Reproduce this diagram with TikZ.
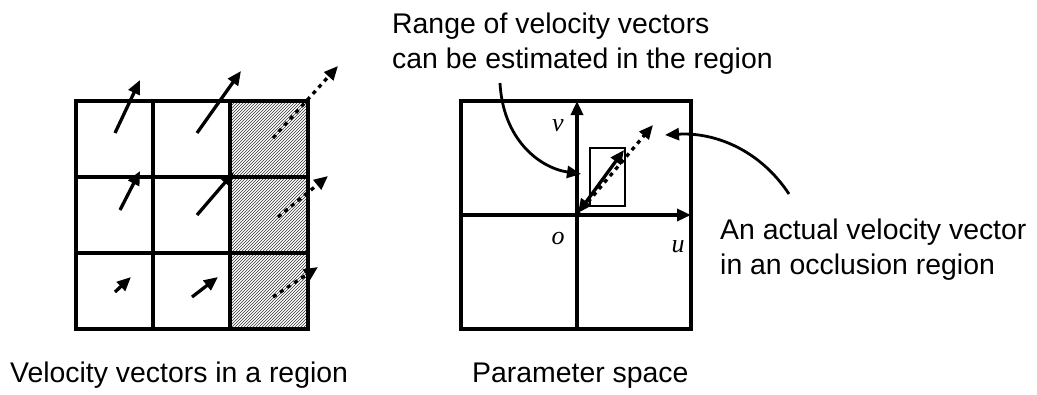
\documentclass[tikz,border=0pt]{standalone}
\usepackage{fontspec}
\setmainfont{Liberation Sans}
\newfontfamily\serifit{Liberation Serif}
\usetikzlibrary{arrows.meta,patterns}
\begin{document}
\begin{tikzpicture}[x=1pt,y=-1pt,
  gridline/.style={line width=3.6pt},
  vec/.style={line width=3.3pt,-{Triangle[length=14pt,width=12pt]}},
  dvec/.style={line width=3.3pt,dash pattern=on 4pt off 4.5pt,-{Triangle[length=14pt,width=12pt]}},
  curvearrow/.style={line width=2.8pt,-{Triangle[length=14pt,width=12pt]}},
  lbl/.style={inner sep=0pt,font=\fontsize{28.4}{35}\selectfont,align=left},
  axlbl/.style={inner sep=0pt,font=\fontsize{26}{28}\serifit\itshape}]
\useasboundingbox (0,0) rectangle (1037,394);
% left grid
\fill[pattern=north east lines,pattern color=black!80] (230,101) rectangle (308,329);
\draw[gridline] (76,101) rectangle (308,329);
\draw[gridline] (153,101) -- (153,329);
\draw[gridline] (230,101) -- (230,329);
\draw[gridline] (76,177) -- (308,177);
\draw[gridline] (76,253) -- (308,253);
% vectors in grid
\coordinate (a1s) at (115,133); \coordinate (a1e) at (140,80);
\coordinate (a2s) at (197,133); \coordinate (a2e) at (241,71);
\coordinate (a3s) at (273,138); \coordinate (a3e) at (338,66);
\coordinate (b1s) at (120,210); \coordinate (b1e) at (140,171);
\coordinate (b2s) at (197,215); \coordinate (b2e) at (234,172);
\coordinate (b3s) at (278,217); \coordinate (b3e) at (328,176);
\coordinate (c1s) at (115,292); \coordinate (c1e) at (131,277);
\coordinate (c2s) at (192,297); \coordinate (c2e) at (218,277);
\coordinate (c3s) at (273,297); \coordinate (c3e) at (318,267);
\draw[vec] (a1s) -- (a1e);
\draw[vec] (a2s) -- (a2e);
\draw[dvec] (a3s) -- (a3e);
\draw[vec] (b1s) -- (b1e);
\draw[vec] (b2s) -- (b2e);
\draw[dvec] (b3s) -- (b3e);
\draw[vec] (c1s) -- (c1e);
\draw[vec] (c2s) -- (c2e);
\draw[dvec] (c3s) -- (c3e);
% parameter space
\draw[gridline] (461,101) rectangle (691,329);
\coordinate (o) at (577,215);
\coordinate (vtop) at (577,101);
\coordinate (vbot) at (577,329);
\coordinate (uleft) at (461,215);
\coordinate (uright) at (691,215);
\draw[gridline] (vbot) -- (o);
\draw[gridline] (uleft) -- (o);
\draw[vec] (o) -- (vtop);
\draw[vec] (o) -- (uright);
\draw[line width=2.6pt] (590,148) rectangle (625,206);
\coordinate (dtip) at (653,125);
\coordinate (stip) at (624,150);
\coordinate (sorig) at (578,213);
\draw[dvec] (o) -- (dtip);
\draw[line width=3.3pt,{Triangle[length=14pt,width=12pt]}-{Triangle[length=14pt,width=12pt]}] (sorig) -- (stip);
\node[axlbl] (vl) at (558,126) {v};
\node[axlbl] (ol) at (558,238) {o};
\node[axlbl] (ul) at (678,247) {u};
% texts
\node[lbl,anchor=base west] (t1) at (392,33) {Range of velocity vectors};
\node[lbl,anchor=base west] (t2) at (392,68) {can be estimated in the region};
\node[lbl,anchor=base west] (t3) at (720,239) {An actual velocity vector};
\node[lbl,anchor=base west] (t4) at (720,274) {in an occlusion region};
\node[lbl,anchor=base west] (t5) at (10,382) {Velocity vectors in a region};
\node[lbl,anchor=base west] (t6) at (472,382) {Parameter space};
% curved arrows
\coordinate (c1a) at (500,83);
\coordinate (c1b) at (581,174);
\draw[curvearrow] (c1a) .. controls (503,140) and (540,168) .. (c1b);
\coordinate (c2a) at (789,194);
\coordinate (c2b) at (665,135);
\draw[curvearrow] (c2a) .. controls (760,150) and (715,132) .. (c2b);
\end{tikzpicture}
\end{document}
